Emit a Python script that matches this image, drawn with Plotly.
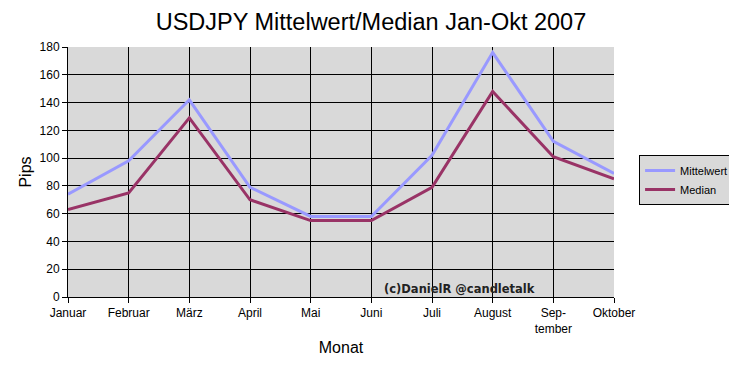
import plotly.graph_objects as go

months = ["Januar", "Februar", "März", "April", "Mai", "Juni", "Juli", "August", "September", "Oktober"]
tick_labels = ["Januar", "Februar", "März", "April", "Mai", "Juni", "Juli", "August", "Sep-<br>tember", "Oktober"]
mittelwert = [74, 98, 142, 79, 58, 58, 102, 176, 112, 89]
median = [63, 75, 129, 70, 55, 55, 79, 148, 101, 85]
y_ticks = list(range(0, 181, 20))

fig = go.Figure()
fig.add_trace(go.Scatter(x=months, y=mittelwert, name="Mittelwert", mode="lines",
                         line=dict(color="#9999ff", width=3)))
fig.add_trace(go.Scatter(x=months, y=median, name="Median", mode="lines",
                         line=dict(color="#993366", width=3)))

fig.update_layout(
    width=737, height=365,
    margin=dict(l=60, r=130, t=39, b=76),
    paper_bgcolor="white",
    plot_bgcolor="#d9d9d9",
    font=dict(family="Liberation Sans, Arial", size=12, color="black"),
    title=dict(text="USDJPY Mittelwert/Median Jan-Okt 2007", x=0.4925, xanchor="center",
               y=0.962, yanchor="middle", font=dict(size=23.5)),
    xaxis=dict(type="category", range=[0, 9], tickmode="array", tickvals=months, ticktext=tick_labels,
               showgrid=True, gridcolor="black", gridwidth=1,
               showline=True, linecolor="black", linewidth=1,
               ticks="outside", ticklen=5, tickcolor="black",
               title=dict(text="Monat", font=dict(size=16), standoff=6)),
    yaxis=dict(range=[0, 180], tickvals=y_ticks,
               showgrid=True, gridcolor="black", gridwidth=1,
               showline=True, linecolor="black", linewidth=1,
               ticks="outside", ticklen=5, tickcolor="black",
               zeroline=False,
               title=dict(text="Pips", font=dict(size=16), standoff=3)),
    legend=dict(x=1.044, xanchor="left", y=0.468, yanchor="middle",
                bgcolor="#d9d9d9", bordercolor="black", borderwidth=1,
                font=dict(size=11), itemwidth=30, tracegroupgap=0),
    showlegend=True,
)

fig.add_annotation(text="<b>(c)DanielR @candletalk</b>", xref="paper", yref="y",
                   x=0.717, y=5.8, xanchor="center", yanchor="middle", showarrow=False,
                   font=dict(family="DejaVu Sans", size=11.5, color="#222222"))

fig.write_html("out.html")
